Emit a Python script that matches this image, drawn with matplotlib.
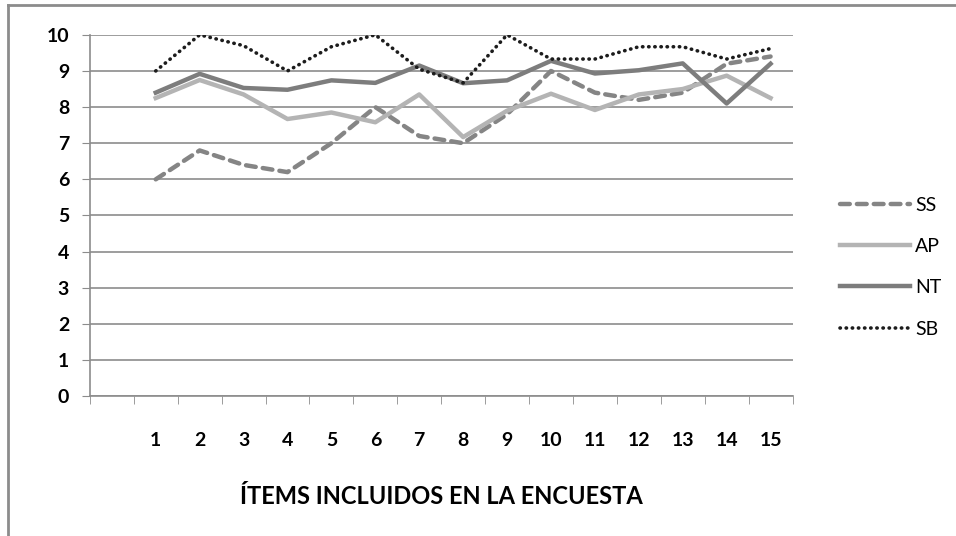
import matplotlib.pyplot as plt
from matplotlib.lines import Line2D

items = list(range(1, 16))
ss = [6.0, 6.8, 6.4, 6.2, 7.0, 8.0, 7.2, 7.0, 7.8, 9.0, 8.4, 8.2, 8.4, 9.2, 9.4]
ap = [8.25, 8.75, 8.35, 7.67, 7.85, 7.58, 8.35, 7.17, 7.9, 8.37, 7.92, 8.35, 8.5, 8.87, 8.25]
nt = [8.4, 8.92, 8.53, 8.48, 8.74, 8.67, 9.15, 8.66, 8.74, 9.28, 8.93, 9.02, 9.21, 8.1, 9.2]
sb = [9.0, 10.0, 9.7, 9.0, 9.67, 10.0, 9.05, 8.67, 10.0, 9.33, 9.33, 9.67, 9.67, 9.33, 9.62]

fnt = "Lato"

fig = plt.figure(figsize=(9.56, 5.36), dpi=100)
ax = fig.add_axes([0.094, 0.261, 0.735, 0.674])

lw = 3.2
ax.plot(items, ss, color="#858585", lw=lw, ls=(0, (2.2, 1.6)), dash_capstyle="round", label="SS", zorder=3)
ax.plot(items, ap, color="#b4b4b4", lw=lw, label="AP", zorder=3)
ax.plot(items, nt, color="#7d7d7d", lw=lw, label="NT", zorder=3)
ax.plot(items, sb, color="#1c1c1c", lw=2.6, ls=(0, (0.1, 1.6)), dash_capstyle="round", label="SB", zorder=4)

ax.set_xlim(-0.5, 15.5)
ax.set_ylim(0, 10)
ax.set_yticks(range(0, 11))
ax.grid(axis="y", color="#8c8c8c", lw=1.2)
ax.set_axisbelow(True)

ax.set_xticks(items)
ax.set_xticklabels([str(i) for i in items])
ax.set_xticks([i - 0.5 for i in range(0, 17)], minor=True)
ax.tick_params(axis="x", which="major", length=0, pad=26)
ax.tick_params(axis="x", which="minor", length=6, color="#8c8c8c", direction="out")
ax.tick_params(axis="y", length=6, color="#8c8c8c", pad=9)

for lab in ax.get_xticklabels() + ax.get_yticklabels():
    lab.set_fontfamily(fnt)
    lab.set_fontweight("bold")
    lab.set_fontsize(14)

for s in ["top", "right"]:
    ax.spines[s].set_visible(False)
ax.spines["left"].set_color("#8c8c8c")
ax.spines["bottom"].set_color("#8c8c8c")
ax.spines["left"].set_linewidth(1.2)
ax.spines["bottom"].set_linewidth(1.2)

ax.set_xlabel("ÍTEMS INCLUIDOS EN LA ENCUESTA", fontfamily=fnt,
              fontweight="bold", fontsize=17, labelpad=26)

leg = ax.legend(loc="center left", bbox_to_anchor=(1.043, 0.357), frameon=False,
                handlelength=3.6, handletextpad=0.25, labelspacing=1.25,
                prop={"family": fnt, "size": 14})

# outer chart border (top and left visible)
fig.add_artist(Line2D([0.008, 1.0], [0.991, 0.991], color="#8c8c8c", lw=2, transform=fig.transFigure))
fig.add_artist(Line2D([0.008, 0.008], [0.0, 0.991], color="#8c8c8c", lw=2, transform=fig.transFigure))

fig.savefig("out.png", dpi=100)
